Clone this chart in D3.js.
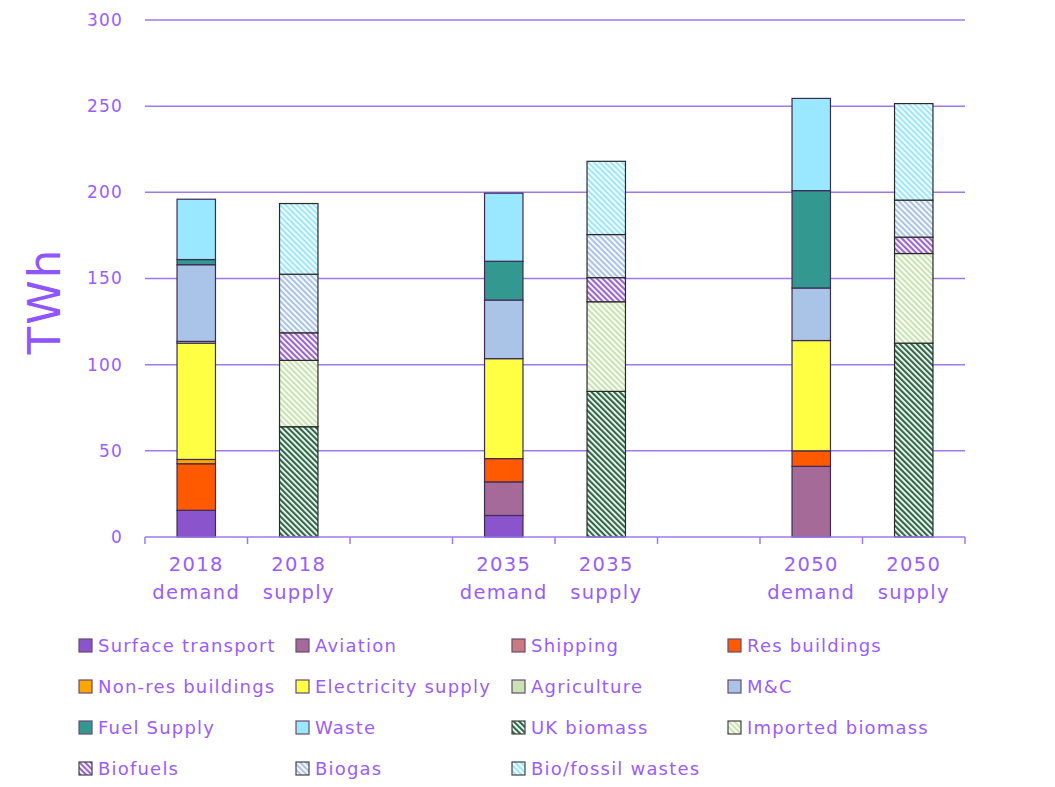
<!DOCTYPE html>
<html><head><meta charset="utf-8">
<script src="https://cdn.jsdelivr.net/npm/d3@7"></script>
<style>
html,body{margin:0;padding:0;background:#fff;}
svg{display:block;font-family:"DejaVu Sans",sans-serif;}
</style></head>
<body>
<svg id="chart" width="1055" height="787"></svg>
<script>
// ---- data ----
const categories = ["2018\ndemand", "2018\nsupply", "", "2035\ndemand", "2035\nsupply", "", "2050\ndemand", "2050\nsupply"];
const seriesNames = ["Surface transport","Aviation","Shipping","Res buildings","Non-res buildings","Electricity supply","Agriculture","M&C","Fuel Supply","Waste","UK biomass","Imported biomass","Biofuels","Biogas","Bio/fossil wastes"];
const surfaceTransport = [15.5, 0, 0, 12.5, 0, 0, 0, 0];
const aviation         = [0, 0, 0, 19.5, 0, 0, 41, 0];
const shipping         = [0, 0, 0, 0, 0, 0, 0, 0];
const resBuildings     = [27, 0, 0, 13.5, 0, 0, 9, 0];
const nonResBuildings  = [2.5, 0, 0, 0, 0, 0, 0, 0];
const electricity      = [67.5, 0, 0, 58, 0, 0, 64, 0];
const agriculture      = [1, 0, 0, 0, 0, 0, 0, 0];
const mc               = [44.5, 0, 0, 34, 0, 0, 30.5, 0];
const fuelSupply       = [3, 0, 0, 22.5, 0, 0, 56.5, 0];
const waste            = [35, 0, 0, 39.5, 0, 0, 53.5, 0];
const ukBiomass        = [0, 64, 0, 0, 84.5, 0, 0, 112.5];
const importedBiomass  = [0, 38.5, 0, 0, 52, 0, 0, 52];
const biofuels         = [0, 16, 0, 0, 14, 0, 0, 9.5];
const biogas           = [0, 34, 0, 0, 25, 0, 0, 21.5];
const bioFossilWastes  = [0, 41, 0, 0, 42.5, 0, 0, 56];
const yTicks = [0, 50, 100, 150, 200, 250, 300];

const seriesValues = [surfaceTransport, aviation, shipping, resBuildings, nonResBuildings, electricity, agriculture, mc, fuelSupply, waste, ukBiomass, importedBiomass, biofuels, biogas, bioFossilWastes];

// ---- styles ----
const fills = ["#8a55cc","#a66a98","#c87a80","#ff5a00","#ffa500","#ffff44","#c8e4b0","#aac4e8","#339990","#99e8ff",
               "#2f6a48","#c8e4b0","#9966cc","#aac4e8","#99e8ff"];
const hatched = [false,false,false,false,false,false,false,false,false,false,true,true,true,true,true];
const textColor = "#9a5cff";
const gridColor = "#9f78f0";

const svg = d3.select("#chart");
const defs = svg.append("defs");
fills.forEach((c,i)=>{
  if(!hatched[i]) return;
  const p = defs.append("pattern").attr("id","hatch"+i).attr("patternUnits","userSpaceOnUse")
    .attr("width",4).attr("height",4).attr("patternTransform","rotate(-45)");
  p.append("rect").attr("width",4).attr("height",4).attr("fill","#fff");
  p.append("rect").attr("width",2.2).attr("height",4).attr("fill",c);
});
const fillOf = i => hatched[i] ? `url(#hatch${i})` : fills[i];

const margin = {left:145, right:90, top:20, bottom:250};
const W = 1055, H = 787;
const x = d3.scaleBand().domain(d3.range(categories.length)).range([margin.left, W - margin.right]).paddingInner(0).paddingOuter(0);
const y = d3.scaleLinear().domain([0,300]).range([H - margin.bottom, margin.top]);

// gridlines
svg.append("g").selectAll("line").data(yTicks.filter(t=>t>0)).join("line")
  .attr("x1", margin.left).attr("x2", W - margin.right)
  .attr("y1", d=>y(d)).attr("y2", d=>y(d))
  .attr("stroke", gridColor).attr("stroke-width",1.5);

// y tick labels
svg.append("g").selectAll("text").data(yTicks).join("text")
  .attr("x", 123).attr("y", d=>y(d)).attr("dy","0.35em").attr("text-anchor","end")
  .attr("fill", textColor).attr("font-size",17).attr("letter-spacing",1.2).text(d=>d);

// y axis title
svg.append("text").attr("transform","translate(60,301) rotate(-90)")
  .attr("text-anchor","middle").attr("fill","#8f55ff").attr("font-size",45).attr("letter-spacing",2).text("TWh");

// stacked bars
const rows = categories.map((c,ci)=>{ const o={idx:ci}; seriesNames.forEach((s,si)=>o[s]=seriesValues[si][ci]); return o;});
const stacked = d3.stack().keys(seriesNames)(rows);
const bw = x.bandwidth()*0.375;
stacked.forEach((layer, si)=>{
  svg.append("g").selectAll("rect").data(layer.filter(d=>d[1]-d[0]>0)).join("rect")
    .attr("x", d=> x(d.data.idx) + (x.bandwidth()-bw)/2)
    .attr("width", bw)
    .attr("y", d=> y(d[1]))
    .attr("height", d=> y(d[0]) - y(d[1]))
    .attr("fill", fillOf(si))
    .attr("stroke", hatched[si] ? "#2a2a2a" : "#3d2a55")
    .attr("stroke-width",1.2);
});

// x axis
const xAxisY = y(0);
svg.append("line").attr("x1", margin.left).attr("x2", W - margin.right).attr("y1", xAxisY).attr("y2", xAxisY)
  .attr("stroke", gridColor).attr("stroke-width",1.5);
const bounds = d3.range(categories.length+1).map(i => margin.left + i*x.step());
svg.append("g").selectAll("line").data(bounds).join("line")
  .attr("x1", d=>d).attr("x2", d=>d).attr("y1", xAxisY).attr("y2", xAxisY+7)
  .attr("stroke", gridColor).attr("stroke-width",1.5);
const xl = svg.append("g").selectAll("text").data(categories.map((c,i)=>({c,i}))).join("text")
  .attr("text-anchor","middle").attr("fill",textColor).attr("font-size",19.5).attr("letter-spacing",1.3);
xl.each(function(d){
  const lines = d.c.split("\n");
  const t = d3.select(this);
  lines.forEach((ln,k)=>{
    if(!ln) return;
    t.append("tspan").attr("x", x(d.i)+x.bandwidth()/2).attr("y", 571 + k*28).text(ln);
  });
});

// legend
const colX = [79, 296, 512, 728];
const rowY = [646, 687, 728, 769];
const lg = svg.append("g");
seriesNames.forEach((s,i)=>{
  const cx = colX[i%4], cy = rowY[Math.floor(i/4)];
  lg.append("rect").attr("x",cx).attr("y",cy-7).attr("width",13).attr("height",13)
    .attr("fill", fillOf(i)).attr("stroke", hatched[i] ? "#444" : "#6a4a70").attr("stroke-width",1.2);
  lg.append("text").attr("x", cx+19).attr("y", cy).attr("dy","0.35em")
    .attr("fill", textColor).attr("font-size",18).attr("letter-spacing",1.2).text(s);
});
</script>
</body></html>
